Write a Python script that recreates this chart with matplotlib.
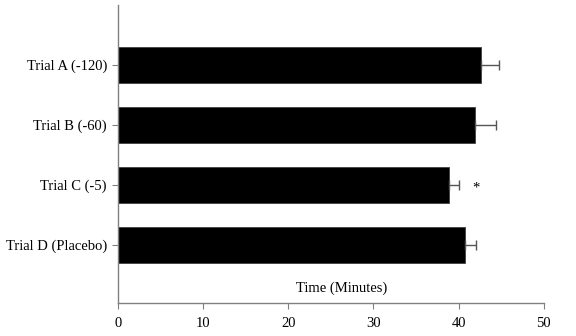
import numpy as np
import matplotlib
matplotlib.use("Agg")
import matplotlib.pyplot as plt

plt.rcParams['font.family'] = ['Liberation Serif', 'DejaVu Serif']

# ---------- Data ----------
trials = ["Trial A (-120)", "Trial B (-60)", "Trial C (-5)", "Trial D (Placebo)"]
times = [42.6, 41.9, 38.85, 40.8]
errors = [2.2, 2.5, 1.15, 1.2]
significant = [False, False, True, False]

# ---------- Figure ----------
fig = plt.figure(figsize=(5.76, 3.36), dpi=100)
ax = fig.add_axes([0.205, 0.098, 0.739, 0.887])

ypos = np.arange(len(trials))[::-1]
ax.barh(ypos, times, height=0.6, color='black', edgecolor='#404040', linewidth=0.6,
        xerr=[np.zeros(len(errors)), errors], ecolor='#555555',
        error_kw=dict(capsize=3.5, elinewidth=1.0, capthick=1.0))

# significance marker
for y, t, e, s in zip(ypos, times, errors, significant):
    if s:
        ax.text(t + e + 2.0, y - 0.05, "*", ha='center', va='center', fontsize=10.5)

ax.set_xlim(0, 50)
ax.set_ylim(-0.97, 4.0)
ax.set_yticks(ypos)
ax.set_yticklabels(trials, fontsize=10.5)
ax.set_xticks(np.arange(0, 51, 10))
ax.tick_params(axis='x', labelsize=10.5, direction='out', length=4, color='#808080', pad=6)
ax.tick_params(axis='y', direction='out', length=4, color='#808080', pad=4)

ax.text(26.2, -0.72, "Time (Minutes)", ha='center', va='center', fontsize=10.5)

for side in ['top', 'right']:
    ax.spines[side].set_visible(False)
for side in ['left', 'bottom']:
    ax.spines[side].set_color('#808080')
    ax.spines[side].set_linewidth(1.0)

fig.savefig("out.png", dpi=100)
